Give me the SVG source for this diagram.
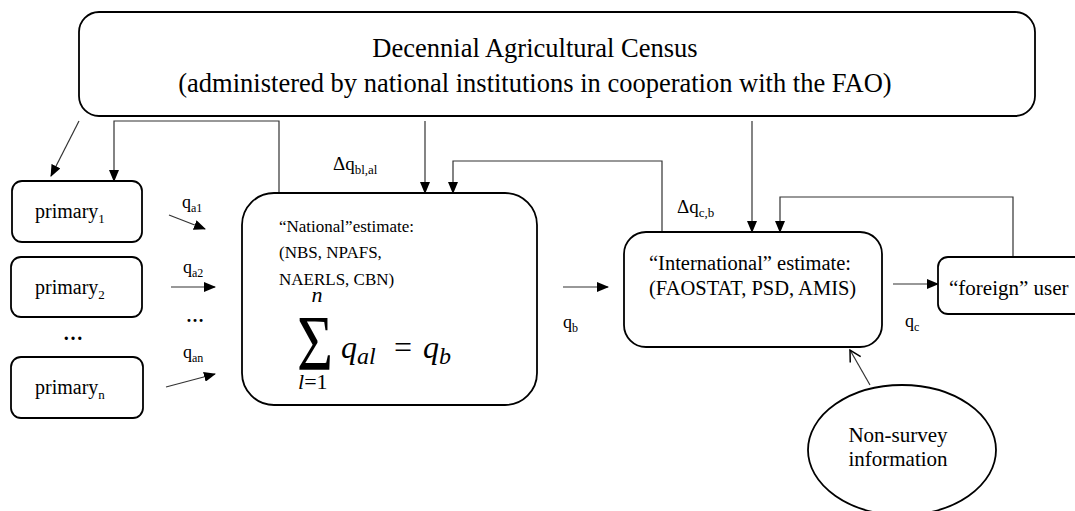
<svg xmlns="http://www.w3.org/2000/svg" width="1075" height="511" viewBox="0 0 1075 511">
<style>
.box{fill:#fff;stroke:#000;stroke-width:1.8}
text{font-family:'Liberation Serif','DejaVu Serif',serif;fill:#000}
.m{font-style:italic}
.c{fill:none;stroke:#333;stroke-width:1.2}
</style>
<defs>
<marker id="ah" markerUnits="userSpaceOnUse" markerWidth="12" markerHeight="10" refX="11" refY="5" orient="auto">
<path d="M0,0 L12,5 L0,10 Z" fill="#000"/>
</marker>
<marker id="oh" markerUnits="userSpaceOnUse" markerWidth="14" markerHeight="14" refX="12" refY="7" orient="auto">
<path d="M1,1 L12,7 L1,13" fill="none" stroke="#000" stroke-width="1.5"/>
</marker>
</defs>
<rect width="1075" height="511" fill="#fff"/>

<g id="connectors">
<line class="c" x1="79" y1="121" x2="51" y2="176" marker-end="url(#ah)"/>
<polyline class="c" points="279,193 279,121 114,121 114,181" marker-end="url(#ah)"/>
<line class="c" x1="425" y1="121" x2="425" y2="193" marker-end="url(#ah)"/>
<polyline class="c" points="662,232 662,161 453,161 453,193" marker-end="url(#ah)"/>
<line class="c" x1="752" y1="121" x2="752" y2="232" marker-end="url(#ah)"/>
<polyline class="c" points="1013,257 1013,197 780,197 780,232" marker-end="url(#ah)"/>
<line class="c" x1="169" y1="215" x2="205" y2="229" marker-end="url(#ah)"/>
<line class="c" x1="171" y1="287" x2="215" y2="287" marker-end="url(#ah)"/>
<line class="c" x1="166" y1="387" x2="215" y2="374" marker-end="url(#ah)"/>
<line class="c" x1="563" y1="287" x2="608" y2="287" marker-end="url(#ah)"/>
<line class="c" x1="893" y1="284" x2="938" y2="284" marker-end="url(#ah)"/>
<line class="c" x1="870" y1="385" x2="850" y2="350" marker-end="url(#oh)"/>
<text x="182" y="208" font-size="18">q<tspan dy="4" font-size="12">a1</tspan></text>
<text x="183" y="273" font-size="18">q<tspan dy="4" font-size="12">a2</tspan></text>
<text x="195" y="322" font-size="18" font-weight="bold" text-anchor="middle">…</text>
<text x="183" y="358" font-size="18">q<tspan dy="4" font-size="12">an</tspan></text>
<text x="333" y="170" font-size="19">Δq<tspan dy="4" font-size="13">bl,al</tspan></text>
<text x="563" y="328" font-size="18">q<tspan dy="4" font-size="12">b</tspan></text>
<text x="677" y="213" font-size="19">Δq<tspan dy="4" font-size="13">c,b</tspan></text>
<text x="905" y="327" font-size="18">q<tspan dy="4" font-size="12">c</tspan></text>
</g>

<g id="census">
<rect class="box" x="79" y="12" width="956" height="104" rx="20"/>
<text x="535" y="57" font-size="26.5" text-anchor="middle">Decennial Agricultural Census</text>
<text x="535" y="92" font-size="26.5" text-anchor="middle">(administered by national institutions in cooperation with the FAO)</text>
</g>

<g id="primary1">
<rect class="box" x="12" y="181" width="130" height="61" rx="10"/>
<text x="35" y="218" font-size="20">primary<tspan dy="5" font-size="13">1</tspan></text>
</g>
<g id="primary2">
<rect class="box" x="11" y="257" width="131" height="60" rx="10"/>
<text x="35" y="294" font-size="20">primary<tspan dy="5" font-size="13">2</tspan></text>
</g>
<text x="73" y="340" font-size="20" font-weight="bold" text-anchor="middle">…</text>
<g id="primaryn">
<rect class="box" x="11" y="357" width="132" height="61" rx="10"/>
<text x="35" y="394" font-size="20">primary<tspan dy="5" font-size="13">n</tspan></text>
</g>

<g id="national">
<rect class="box" x="242" y="193" width="295" height="212" rx="32"/>
<text x="279" y="232" font-size="17">“National”estimate:</text>
<text x="279" y="258" font-size="17">(NBS, NPAFS,</text>
<text x="279" y="285" font-size="17">NAERLS, CBN)</text>
<text x="297" y="369" font-size="78" textLength="36" lengthAdjust="spacingAndGlyphs">Σ</text>
<text class="m" x="317" y="302" font-size="22" text-anchor="middle">n</text>
<text class="m" x="298" y="389" font-size="22">l<tspan font-style="normal">=1</tspan></text>
<text class="m" x="341" y="358" font-size="32">q<tspan dy="6" font-size="24">al</tspan></text>
<text x="403" y="358" font-size="32" text-anchor="middle">=</text>
<text class="m" x="423" y="358" font-size="32">q<tspan dy="6" font-size="24">b</tspan></text>
</g>

<g id="international">
<rect class="box" x="624" y="232" width="258" height="115" rx="22"/>
<text x="649" y="270" font-size="20.5">“International” estimate:</text>
<text x="649" y="295" font-size="20.5">(FAOSTAT, PSD, AMIS)</text>
</g>

<g id="foreign">
<rect class="box" x="938" y="257" width="150" height="57" rx="10"/>
<text x="949" y="295" font-size="21">“foreign” user</text>
</g>

<g id="nonsurvey">
<ellipse class="box" cx="902" cy="450" rx="94" ry="65"/>
<text x="898" y="442" font-size="21" text-anchor="middle">Non-survey</text>
<text x="898" y="466" font-size="21" text-anchor="middle">information</text>
</g>
</svg>
